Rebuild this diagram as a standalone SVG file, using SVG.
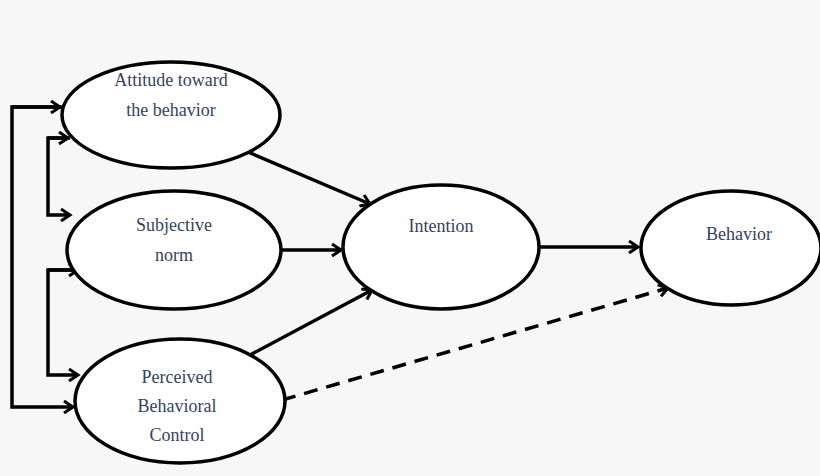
<svg xmlns="http://www.w3.org/2000/svg" width="820" height="476" viewBox="0 0 820 476">
<style>
.n{fill:#fff;stroke:#000;stroke-width:3.5}
.t{font-family:'Liberation Serif','Times New Roman','DejaVu Serif',serif;font-size:18px;fill:#34435f;text-anchor:middle}
.c{fill:none;stroke:#000;stroke-width:3.5}
</style>
<defs><marker id="a" markerWidth="14" markerHeight="14" refX="11" refY="7" orient="auto" markerUnits="userSpaceOnUse"><path d="M2,1 L11,7 L2,13" fill="none" stroke="#000" stroke-width="3"/></marker></defs>
<rect width="820" height="476" fill="#f7f7f7"/>
<g id="connectors">
<path class="c" d="M62,107 H12 V407 H73" marker-end="url(#a)"/>
<path class="c" d="M12,107 H60" marker-end="url(#a)"/>
<path class="c" d="M70,138 H48 V215 H70" marker-end="url(#a)"/>
<path class="c" d="M48,138 H68" marker-end="url(#a)"/>
<path class="c" d="M80,270 H48 V375 H78" marker-end="url(#a)"/>
<path class="c" d="M48,270 H78" marker-end="url(#a)"/>
<path class="c" d="M248,152 L370,204" marker-end="url(#a)"/>
<path class="c" d="M280,250 L341,250" marker-end="url(#a)"/>
<path class="c" d="M250,355 L372,290" marker-end="url(#a)"/>
<path class="c" d="M540,247 L638,247" marker-end="url(#a)"/>
<path class="c" d="M282,400 L668,288" stroke-dasharray="14,9" marker-end="url(#a)"/>
</g>
<g id="attitude"><ellipse class="n" cx="171" cy="115" rx="109" ry="53"/><text class="t" x="171" y="86">Attitude toward</text><text class="t" x="171" y="116">the behavior</text></g>
<g id="subjective"><ellipse class="n" cx="174" cy="250" rx="107" ry="59"/><text class="t" x="174" y="231">Subjective</text><text class="t" x="174" y="261">norm</text></g>
<g id="perceived"><ellipse class="n" cx="180" cy="401" rx="105" ry="62"/><text class="t" x="177" y="383">Perceived</text><text class="t" x="177" y="412">Behavioral</text><text class="t" x="177" y="441">Control</text></g>
<g id="intention"><ellipse class="n" cx="441" cy="247" rx="98" ry="62"/><text class="t" x="441" y="232">Intention</text></g>
<g id="behavior"><ellipse class="n" cx="731" cy="248" rx="90" ry="57"/><text class="t" x="739" y="240">Behavior</text></g>
</svg>
